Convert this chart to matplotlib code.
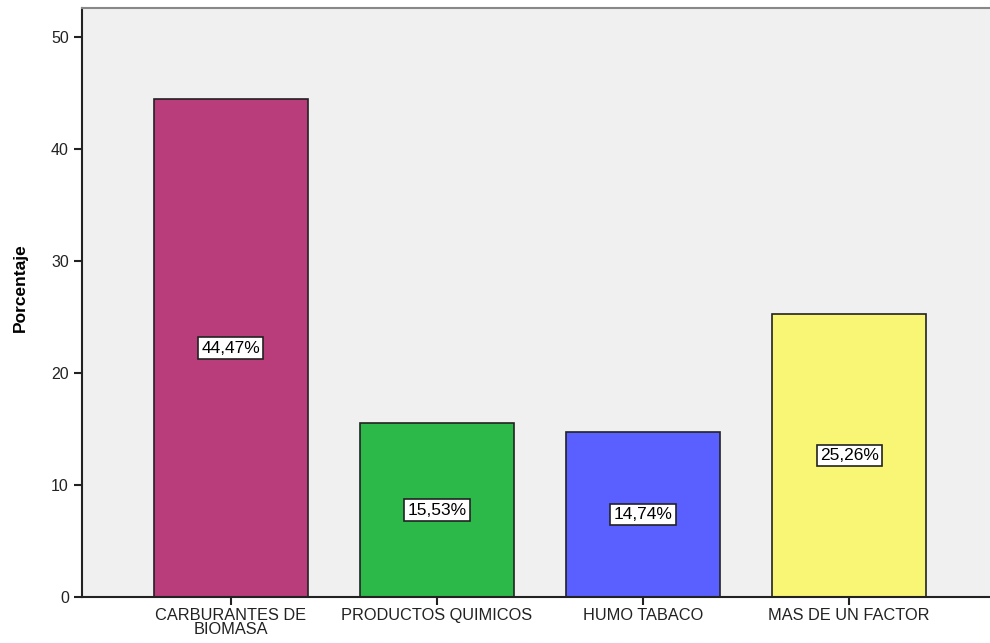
import matplotlib
matplotlib.use("Agg")
import matplotlib.pyplot as plt

categorias = ["CARBURANTES DE\nBIOMASA", "PRODUCTOS QUIMICOS", "HUMO TABACO", "MAS DE UN FACTOR"]
porcentajes = [44.47, 15.53, 14.74, 25.26]
etiquetas = ["44,47%", "15,53%", "14,74%", "25,26%"]
colores = ["#B93D7A", "#2DB84A", "#5A5FFF", "#FAF675"]

plt.rcParams["font.family"] = ["Liberation Sans", "DejaVu Sans"]

fig = plt.figure(figsize=(9.9, 6.43), dpi=100)
ax = fig.add_axes([0.0828, 0.0715, 1 - 0.0828, 0.9876 - 0.0715])
ax.set_facecolor("#F0F0F0")

x = range(len(categorias))
ax.bar(x, porcentajes, width=0.75, color=colores, edgecolor="#222222", linewidth=1.2, zorder=2)
for i, v in enumerate(porcentajes):
    ax.text(i, v / 2, etiquetas[i], ha="center", va="center", fontsize=12.5, zorder=3,
            bbox=dict(boxstyle="square,pad=0.18", facecolor="white", edgecolor="#222222", linewidth=1.2))

ax.set_xlim(-0.723, 3.684)
ax.set_ylim(0, 52.6)
ax.set_yticks([0, 10, 20, 30, 40, 50])
ax.set_xticks(list(x))
ax.set_xticklabels(categorias, fontsize=11.8, linespacing=0.88)
ax.tick_params(axis="y", labelsize=11.5, length=6, width=1.5, colors="#222222")
ax.tick_params(axis="x", length=6, width=1.5, colors="#222222", pad=2)
ax.set_ylabel("Porcentaje", fontsize=12.5, fontweight="bold")
ax.yaxis.set_label_coords(-0.06, 0.525)

ax.spines["left"].set_linewidth(1.5)
ax.spines["left"].set_color("#222222")
ax.spines["bottom"].set_linewidth(1.5)
ax.spines["bottom"].set_color("#222222")
ax.spines["top"].set_color("#888888")
ax.spines["top"].set_linewidth(1.5)
ax.spines["right"].set_visible(False)

fig.savefig("out.png", dpi=100)
